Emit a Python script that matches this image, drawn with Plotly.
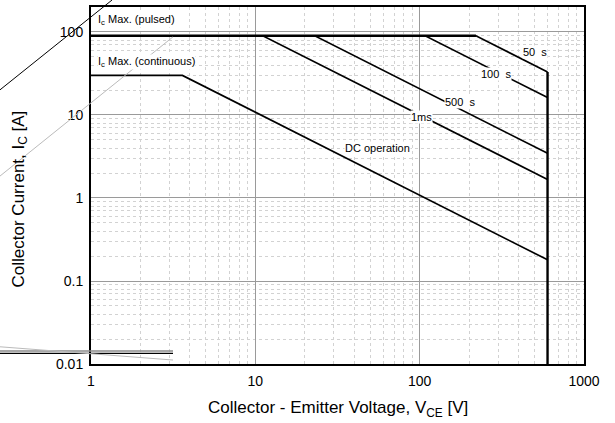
import math
import plotly.graph_objects as go

# ---- data ----
x_tick_vals = [1, 10, 100, 1000]
x_tick_text = ["1", "10", "100", "1000"]
y_tick_vals = [0.01, 0.1, 1, 10, 100]
y_tick_text = ["0.01", "0.1", "1", "10", "100"]

ic_pulsed = 90.0          # A
ic_continuous = 30.0      # A
vces = 600.0              # V
v_start = 1.0             # V

pulse_labels = ["50\u00a0\u00a0s", "100\u00a0\u00a0s", "500\u00a0\u00a0s", "1ms"]
pulse_knee_v = [220.0, 108.0, 23.0, 11.1]      # V where curve leaves Ic pulsed
pulse_end_i = [33.0, 16.2, 3.45, 1.67]         # A at VCES
pulse_label_v = [505.0, 292.0, 176.0, 102.0]
pulse_label_i = [57.0, 31.0, 14.4, 9.5]

dc_knee_v = 3.6
dc_end_i = 0.18
dc_label = "DC operation"
dc_label_v = 55.0
dc_label_i = 4.0

y_bottom = 0.01

FONT = "Arial, Liberation Sans, sans-serif"
LW = 1.7
L = math.log10

fig = go.Figure()

# pulsed curves
for kv, ei in zip(pulse_knee_v, pulse_end_i):
    fig.add_trace(go.Scatter(x=[v_start, kv, vces], y=[ic_pulsed, ic_pulsed, ei],
                             mode="lines", line=dict(color="black", width=LW),
                             showlegend=False, hoverinfo="skip"))
# Ic pulsed line (thick)
fig.add_trace(go.Scatter(x=[v_start, pulse_knee_v[0]], y=[ic_pulsed, ic_pulsed],
                         mode="lines", line=dict(color="black", width=2.6),
                         showlegend=False, hoverinfo="skip"))
# DC curve
fig.add_trace(go.Scatter(x=[v_start, dc_knee_v, vces], y=[ic_continuous, ic_continuous, dc_end_i],
                         mode="lines", line=dict(color="black", width=LW),
                         showlegend=False, hoverinfo="skip"))
# VCES limit
fig.add_trace(go.Scatter(x=[vces, vces], y=[y_bottom, pulse_end_i[0]],
                         mode="lines", line=dict(color="black", width=2.4),
                         showlegend=False, hoverinfo="skip"))

lab_font = dict(size=11, color="black", family=FONT)
ann = []
for lab, lv, li in zip(pulse_labels, pulse_label_v, pulse_label_i):
    ann.append(dict(x=L(lv), y=L(li), xref="x", yref="y", text=lab, showarrow=False,
                    font=lab_font, bgcolor="white", borderpad=0))
ann.append(dict(x=L(dc_label_v), y=L(dc_label_i), xref="x", yref="y", text=dc_label,
                showarrow=False, font=lab_font, bgcolor="white", borderpad=0))
ann.append(dict(x=L(1.085), y=L(138), xref="x", yref="y", xanchor="left",
                text="I<sub>c</sub> Max. (pulsed)", showarrow=False,
                font=lab_font, bgcolor="white", borderpad=0))
ann.append(dict(x=L(1.085), y=L(43), xref="x", yref="y", xanchor="left",
                text="I<sub>c</sub> Max. (continuous)", showarrow=False,
                font=lab_font, bgcolor="white", borderpad=0))
# axis titles
ann.append(dict(x=0.5, y=-0.125, xref="paper", yref="paper", xanchor="center", yanchor="middle",
                text="Collector - Emitter Voltage, V<sub>CE</sub> [V]", showarrow=False,
                font=dict(size=17, color="black", family=FONT)))
ann.append(dict(x=-0.144, y=0.461, xref="paper", yref="paper", xanchor="center", yanchor="middle",
                textangle=-90,
                text="Collector Current, I<sub>C</sub> [A]", showarrow=False,
                font=dict(size=17, color="black", family=FONT)))

# stray decorative strokes seen in the reference (outside/left of the frame)
def px2p(px, py):
    return (px - 91) / 493.0, (364 - py) / 359.0

strokes = [
    ((0, 88.3), (112, -2), "black", 1),
    ((0, 175), (173, 35), "#bbbbbb", 1),
    ((0, 351), (173, 351), "#8a8a8a", 1.4),
    ((0, 353.3), (173, 353.3), "black", 1.2),
    ((0, 346.7), (173, 360), "#bbbbbb", 1),
]
shapes = []
for (a, b, c, w) in strokes:
    x0, y0 = px2p(*a)
    x1, y1 = px2p(*b)
    shapes.append(dict(type="line", xref="paper", yref="paper", x0=x0, y0=y0, x1=x1, y1=y1,
                       line=dict(color=c, width=w), layer="above"))

fig.update_layout(
    width=615, height=423,
    margin=dict(l=91, r=31, t=5, b=59),
    paper_bgcolor="white", plot_bgcolor="white",
    font=dict(family=FONT, color="black", size=14),
    annotations=ann, shapes=shapes,
    showlegend=False,
)
axis_common = dict(type="log", showline=True, linecolor="black", linewidth=2, mirror=True,
                   showgrid=True, gridcolor="#9a9a9a", gridwidth=1,
                   ticks="", ticklabelstandoff=3, tickfont=dict(size=14, family=FONT),
                   zeroline=False,
                   minor=dict(dtick="D1", showgrid=True, gridcolor="#d2d2d2",
                              griddash="3px,3px", gridwidth=1, ticks=""))
fig.update_xaxes(range=[0, 3], tickmode="array", tickvals=x_tick_vals, ticktext=x_tick_text,
                 **axis_common)
fig.update_yaxes(range=[-2, 2.30103], tickmode="array", tickvals=y_tick_vals, ticktext=y_tick_text,
                 **axis_common)

fig.write_html("out.html")
